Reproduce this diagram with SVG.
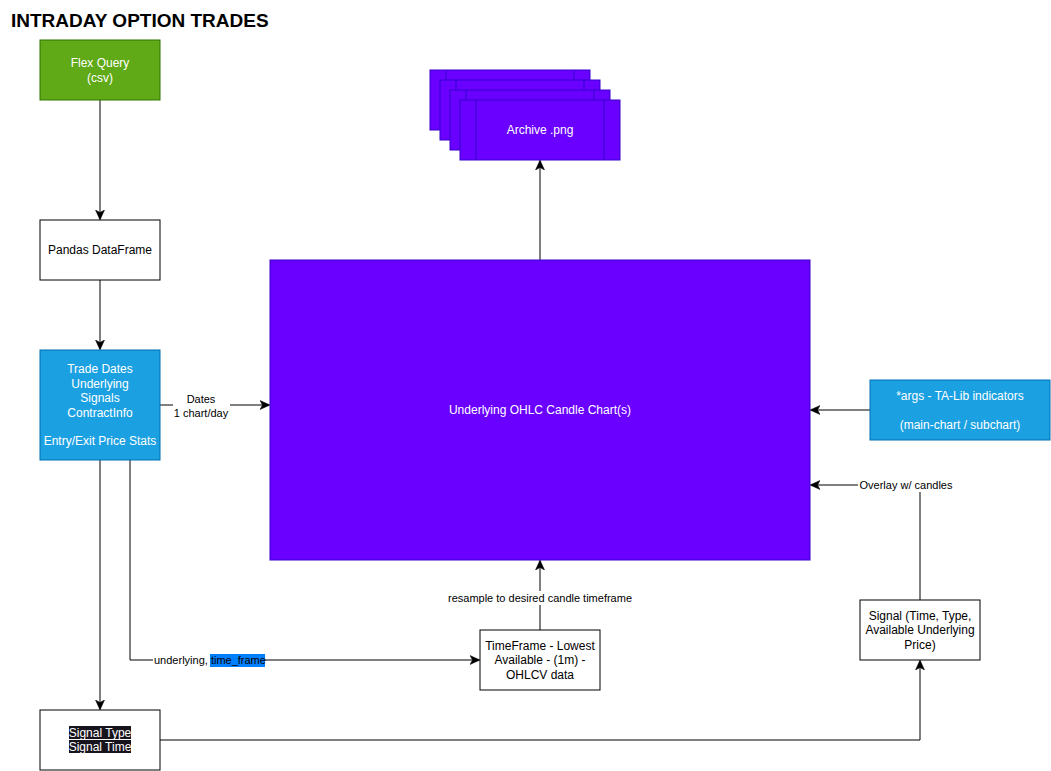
<svg xmlns="http://www.w3.org/2000/svg" width="1051" height="771" viewBox="0 0 1051 771">
<defs>
<style>
text{font-family:"Liberation Sans",Arial,sans-serif;}
.t{font-size:12px;text-anchor:middle;}
.w{fill:#ffffff;}
.k{fill:#000000;}
.lbl{font-size:11px;fill:#000;}
.edge{fill:none;stroke:#000;stroke-width:1;}
.plain{fill:#ffffff;stroke:#000;stroke-width:1;}
.blue{fill:#1ba1e2;stroke:#006eaf;stroke-width:1;}
.purple{fill:#6a00ff;stroke:#3700cc;stroke-width:1;}
</style>
<marker id="arr" viewBox="0 0 10 10" refX="9" refY="5" markerWidth="10" markerHeight="10" markerUnits="userSpaceOnUse" orient="auto">
<path d="M0,0.5 L10,5 L0,9.5 L2.5,5 Z" fill="#000" stroke="#000" stroke-width="0.5"/>
</marker>
</defs>
<rect width="1051" height="771" fill="#ffffff"/>
<text x="11" y="27" style="font-size:19px;font-weight:bold;" fill="#000">INTRADAY OPTION TRADES</text>

<g id="connectors">
<path class="edge" d="M100,100 L100,219" marker-end="url(#arr)"/>
<path class="edge" d="M100,280 L100,349" marker-end="url(#arr)"/>
<path class="edge" d="M160,405 L269,405" marker-end="url(#arr)"/>
<path class="edge" d="M540,260 L540,161" marker-end="url(#arr)"/>
<path class="edge" d="M870,410 L811,410" marker-end="url(#arr)"/>
<path class="edge" d="M920,600 L920,485 L811,485" marker-end="url(#arr)"/>
<path class="edge" d="M540,630 L540,561" marker-end="url(#arr)"/>
<path class="edge" d="M100,460 L100,709" marker-end="url(#arr)"/>
<path class="edge" d="M130,460 L130,660 L479,660" marker-end="url(#arr)"/>
<path class="edge" d="M160,740 L920,740 L920,661" marker-end="url(#arr)"/>
<!-- labels -->
<rect x="173" y="392" width="57" height="27" fill="#ffffff"/>
<text class="lbl" x="201" y="403" text-anchor="middle">Dates</text>
<text class="lbl" x="201" y="417" text-anchor="middle">1 chart/day</text>
<rect x="858" y="478" width="97" height="14" fill="#ffffff"/>
<text class="lbl" x="906" y="489" text-anchor="middle">Overlay w/ candles</text>
<rect x="446" y="591" width="188" height="14" fill="#ffffff"/>
<text class="lbl" x="540" y="602" text-anchor="middle">resample to desired candle timeframe</text>
<rect x="153" y="654" width="112" height="13" fill="#ffffff"/>
<rect x="210" y="654" width="55" height="13" fill="#007fff"/>
<text class="lbl" x="154" y="664">underlying, <tspan>time_frame</tspan></text>
</g>

<g id="flex-query">
<rect x="40" y="40" width="120" height="60" fill="#60a917" stroke="#2d7600"/>
<text class="t w" x="100" y="67">Flex Query</text>
<text class="t w" x="100" y="82">(csv)</text>
</g>

<g id="pandas-dataframe">
<rect class="plain" x="40" y="220" width="120" height="60"/>
<text class="t k" x="100" y="254">Pandas DataFrame</text>
</g>

<g id="trade-dates">
<rect class="blue" x="40" y="350" width="120" height="110"/>
<text class="t w" x="100" y="373">Trade Dates</text>
<text class="t w" x="100" y="388">Underlying</text>
<text class="t w" x="100" y="402">Signals</text>
<text class="t w" x="100" y="417">ContractInfo</text>
<text class="t w" x="100" y="445">Entry/Exit Price Stats</text>
</g>

<g id="archive">
<rect class="purple" x="430" y="70" width="160" height="60"/>
<path d="M446,70 V130 M574,70 V130" stroke="#3700cc" fill="none"/>
<rect class="purple" x="440" y="80" width="160" height="60"/>
<path d="M456,80 V140 M584,80 V140" stroke="#3700cc" fill="none"/>
<rect class="purple" x="450" y="90" width="160" height="60"/>
<path d="M466,90 V150 M594,90 V150" stroke="#3700cc" fill="none"/>
<rect class="purple" x="460" y="100" width="160" height="60"/>
<path d="M476,100 V160 M604,100 V160" stroke="#3700cc" fill="none"/>
<text class="t w" x="540" y="134">Archive .png</text>
</g>

<g id="ohlc-chart">
<rect class="purple" x="270" y="260" width="540" height="300"/>
<text class="t w" x="540" y="414">Underlying OHLC Candle Chart(s)</text>
</g>

<g id="talib-args">
<rect class="blue" x="870" y="380" width="180" height="60"/>
<text class="t w" x="960" y="400">*args - TA-Lib indicators</text>
<text class="t w" x="960" y="429">(main-chart / subchart)</text>
</g>

<g id="signal">
<rect class="plain" x="860" y="600" width="120" height="60"/>
<text class="t k" x="920" y="620">Signal (Time, Type,</text>
<text class="t k" x="920" y="634">Available Underlying</text>
<text class="t k" x="920" y="649">Price)</text>
</g>

<g id="timeframe">
<rect class="plain" x="480" y="630" width="120" height="60"/>
<text class="t k" x="540" y="650">TimeFrame - Lowest</text>
<text class="t k" x="540" y="664">Available - (1m) -</text>
<text class="t k" x="540" y="679">OHLCV data</text>
</g>

<g id="signal-type">
<rect class="plain" x="40" y="710" width="120" height="60"/>
<rect x="69" y="726" width="62" height="13" fill="#18141d"/>
<rect x="69" y="740" width="62" height="13" fill="#18141d"/>
<text class="t w" x="100" y="737">Signal Type</text>
<text class="t w" x="100" y="751">Signal Time</text>
</g>
</svg>
